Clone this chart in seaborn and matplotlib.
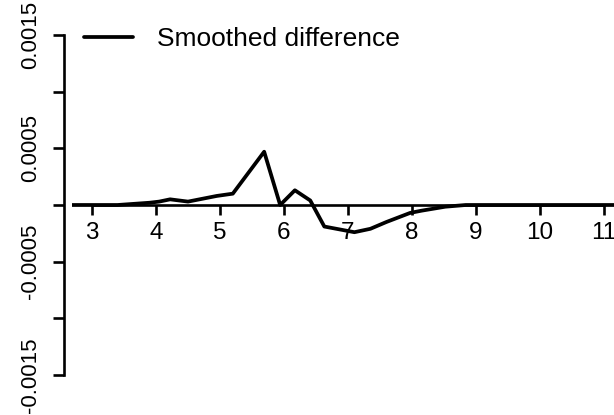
import numpy as np
import pandas as pd
import matplotlib
matplotlib.use("Agg")
import matplotlib.pyplot as plt
import seaborn as sns

# data
x_vals = [2.69, 3.40, 3.90, 4.05, 4.22, 4.50, 4.95, 5.20, 5.69, 5.94, 6.17, 6.41,
          6.63, 7.10, 7.35, 7.60, 7.97, 8.15, 8.52, 8.84, 9.50, 10.50, 11.30]
y_vals = [0.0, 0.0, 0.00002, 0.00003, 0.00005, 0.00003, 0.00008, 0.00010, 0.00047,
          0.0, 0.00013, 0.00004, -0.00019, -0.00024, -0.00021, -0.00015, -0.00007,
          -0.00005, -0.000015, 0.0, 0.0, 0.0, 0.0]
series_label = "Smoothed difference"
x_ticks = [3, 4, 5, 6, 7, 8, 9, 10, 11]
y_ticks = [0.0015, 0.001, 0.0005, 0.0, -0.0005, -0.001, -0.0015]
y_tick_labels = ["0.0015", "", "0.0005", "", "-0.0005", "", "-0.0015"]

sns.set_style("white")
plt.rcParams['font.family'] = ['Liberation Sans', 'DejaVu Sans']
plt.rcParams['text.color'] = 'black'
plt.rcParams['xtick.color'] = 'black'
plt.rcParams['ytick.color'] = 'black'

df = pd.DataFrame({"x": x_vals, "y": y_vals, "series": series_label})

fig = plt.figure(figsize=(6.14, 4.15), dpi=100)
ax = fig.add_axes([72 / 614, 0, 542 / 614, 1])
ax.set_facecolor("none")

sns.lineplot(data=df, x="x", y="y", hue="series", palette=["black"], sort=False,
             estimator=None, linewidth=2.7, ax=ax, legend=True)

ax.set_xlim(3 - 20 / 64, 3 + 522 / 64)
ax.set_ylim(-210 / 113.33 * 0.001, 205 / 113.33 * 0.001)

for s in ["top", "right"]:
    ax.spines[s].set_visible(False)
ax.spines["bottom"].set_position(("data", 0))
ax.spines["bottom"].set_bounds(3, 11)
ax.spines["left"].set_position(("outward", 6))
ax.spines["left"].set_bounds(-0.0015, 0.0015)
for s in ["bottom", "left"]:
    ax.spines[s].set_color("black")
    ax.spines[s].set_linewidth(1.9)

ax.set_xticks(x_ticks)
ax.set_xticklabels([str(t) for t in x_ticks])
ax.set_yticks(y_ticks)
ax.set_yticklabels(y_tick_labels)
ax.tick_params(axis="x", direction="out", length=7.5, width=1.9, color="black",
               labelcolor="black", labelsize=17.5, pad=5, bottom=True)
ax.tick_params(axis="y", direction="out", length=8, width=1.9, color="black",
               labelcolor="black", labelsize=16, pad=8, left=True, labelrotation=90)
for lab in ax.get_yticklabels():
    lab.set_va("center")
ax.set_xlabel("")
ax.set_ylabel("")

leg = ax.legend(loc="center left", bbox_to_anchor=(84 / 614, 1 - 39 / 415),
                bbox_transform=fig.transFigure, frameon=False, fontsize=19,
                handlelength=1.85, handletextpad=0.9, borderpad=0, borderaxespad=0,
                labelcolor="black")
for h in leg.get_lines():
    h.set_linewidth(2.7)

fig.savefig("out.png", dpi=100)
